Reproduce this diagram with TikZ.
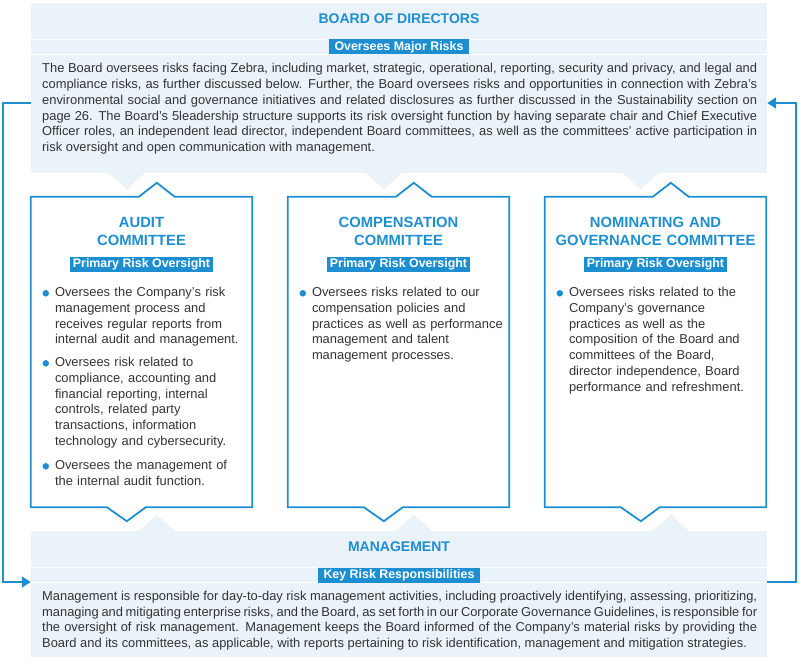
\documentclass[tikz,border=0pt]{standalone}
\usepackage{fontspec}
\setmainfont{Liberation Sans}
\usetikzlibrary{arrows.meta,positioning,calc}
\definecolor{zebra-blue}{HTML}{1D8FD1}
\definecolor{panelfill}{HTML}{EAF2FA}
\definecolor{bodygrey}{HTML}{333333}

\begin{document}
\begin{tikzpicture}[x=1pt, y=-1pt,
  panel/.style={fill=panelfill, inner sep=0pt, minimum width=736pt},
  cbox/.style={inner sep=0pt, minimum width=221pt, minimum height=310pt},
  cframe/.style={draw=zebra-blue, line width=1.8pt, line join=miter},
  heading/.style={font=\fontsize{14}{18}\selectfont\bfseries, text=zebra-blue, inner sep=0pt},
  ctitle/.style={heading, font=\fontsize{14.8}{18}\selectfont\bfseries, align=center, text width=215pt},
  tag/.style={fill=zebra-blue, text=white, font=\fontsize{12.4}{14}\selectfont\bfseries, inner xsep=6pt, inner ysep=0pt, minimum height=15pt},
  body/.style={font=\fontsize{12.9}{15.8}\selectfont, text=bodygrey, align=justify, text width=715pt, inner sep=0pt, anchor=base west},
  point/.style={font=\fontsize{12.9}{15.7}\selectfont, text=bodygrey, align=left, text width=198pt, inner sep=0pt, anchor=base west},
  dot/.style={circle, fill=zebra-blue, inner sep=0pt, minimum size=6.5pt},
  rule/.style={draw=white, line width=0.8pt},
  link/.style={-{Triangle[length=9pt, width=11pt]}, draw=zebra-blue, line width=2pt}
]
  \useasboundingbox (0,0) rectangle (800,661);

  % panels
  \node[panel, minimum height=170pt] (board) at (399,88) {};
  \node[panel, minimum height=126pt] (mgmt) at (399,594) {};

  % committee boxes
  \node[cbox] (audit) at (141.5,352) {};
  \node[cbox] (comp) at (398.5,352) {};
  \node[cbox] (nomgov) at (655.5,352) {};

  \foreach \c in {audit,comp,nomgov} {
    \fill[panelfill] ($(board.south -| \c.west)+(78,0)$) -- ++(18,16) -- ++(18,-16) -- cycle;
    \fill[panelfill] ($(mgmt.north -| \c.west)+(108,0)$) -- ++(18,-16) -- ++(18,16) -- cycle;
    \draw[cframe] (\c.north west) -- ++(108,0) -- ++(18,-14) -- ++(18,14) -- (\c.north east)
      -- (\c.south east) -- ([xshift=115pt]\c.south west) -- ++(-19,14) -- ++(-20,-14)
      -- (\c.south west) -- cycle;
  }

  % board of directors
  \node[heading, anchor=base] (bdtitle) at (399,24) {BOARD OF DIRECTORS};
  \node[tag] (bdtag) at (399,46.8) {Oversees Major Risks};
  \draw[rule] (board.west |- bdtag.north) -- (bdtag.north west);
  \draw[rule] (bdtag.north east) -- (board.east |- bdtag.north);
  \draw[rule] (board.west |- bdtag.south) -- (bdtag.south west);
  \draw[rule] (bdtag.south east) -- (board.east |- bdtag.south);
  \node[body] (bdtext) at (42,72.7) {The Board oversees risks facing Zebra, including market, strategic, operational, reporting, security and privacy, and legal and\linebreak
    compliance risks, as further discussed below. Further, the Board oversees risks and opportunities in connection with Zebra’s\linebreak
    environmental social and governance initiatives and related disclosures as further discussed in the Sustainability section on\linebreak
    page 26. The Board’s 5leadership structure supports its risk oversight function by having separate chair and Chief Executive\linebreak
    Officer roles, an independent lead director, independent Board committees, as well as the committees’ active participation in\linebreak
    risk oversight and open communication with management.};

  % audit committee
  \node[ctitle, anchor=base] (audtitle) at ([yshift=-31pt]audit.north) {AUDIT\\COMMITTEE};
  \node[tag, inner xsep=3pt] (audtag) at ([yshift=-68pt]audit.north) {Primary Risk Oversight};
  \node[point] (aud1) at ([xshift=24pt, yshift=-100pt]audit.north west) {Oversees the Company’s risk\\management process and\\receives regular reports from\\internal audit and management.};
  \node[point] (aud2) at ([xshift=24pt, yshift=-170pt]audit.north west) {Oversees risk related to\\compliance, accounting and\\financial reporting, internal\\controls, related party\\transactions, information\\technology and cybersecurity.};
  \node[point] (aud3) at ([xshift=24pt, yshift=-273pt]audit.north west) {Oversees the management of\\the internal audit function.};
  \node[dot] (aud1dot) at ([xshift=-9pt, yshift=3.5pt]aud1.base west) {};
  \node[dot] (aud2dot) at ([xshift=-9pt, yshift=3.5pt]aud2.base west) {};
  \node[dot] (aud3dot) at ([xshift=-9pt, yshift=3.5pt]aud3.base west) {};

  % compensation committee
  \node[ctitle, anchor=base] (comptitle) at ([yshift=-31pt]comp.north) {COMPENSATION\\COMMITTEE};
  \node[tag, inner xsep=3pt] (comptag) at ([yshift=-68pt]comp.north) {Primary Risk Oversight};
  \node[point] (comp1) at ([xshift=24pt, yshift=-100pt]comp.north west) {Oversees risks related to our\\compensation policies and\\practices as well as performance\\management and talent\\management processes.};
  \node[dot] (comp1dot) at ([xshift=-9pt, yshift=3.5pt]comp1.base west) {};

  % nominating and governance committee
  \node[ctitle, anchor=base] (nomtitle) at ([yshift=-31pt]nomgov.north) {NOMINATING AND\\GOVERNANCE COMMITTEE};
  \node[tag, inner xsep=3pt] (nomtag) at ([yshift=-68pt]nomgov.north) {Primary Risk Oversight};
  \node[point] (nom1) at ([xshift=24pt, yshift=-100pt]nomgov.north west) {Oversees risks related to the\\Company’s governance\\practices as well as the\\composition of the Board and\\committees of the Board,\\director independence, Board\\performance and refreshment.};
  \node[dot] (nom1dot) at ([xshift=-9pt, yshift=3.5pt]nom1.base west) {};

  % management
  \node[heading, anchor=base] (mgtitle) at (399,551.5) {MANAGEMENT};
  \node[tag] (mgtag) at (399,575) {Key Risk Responsibilities};
  \draw[rule] (mgmt.west |- mgtag.north) -- (mgtag.north west);
  \draw[rule] (mgtag.north east) -- (mgmt.east |- mgtag.north);
  \draw[rule] (mgmt.west |- mgtag.south) -- (mgtag.south west);
  \draw[rule] (mgtag.south east) -- (mgmt.east |- mgtag.south);
  \node[body] (mgtext) at (42,600.3) {Management is responsible for day-to-day risk management activities, including proactively identifying, assessing, prioritizing,\linebreak
    managing and mitigating enterprise risks, and the Board, as set forth in our Corporate Governance Guidelines, is responsible for\linebreak
    the oversight of risk management. Management keeps the Board informed of the Company’s material risks by providing the\linebreak
    Board and its committees, as applicable, with reports pertaining to risk identification, management and mitigation strategies.};

  % reporting loops
  \draw[link] ([yshift=-15pt]board.west) -- ++(-28,0) |- ([yshift=12pt]mgmt.west);
  \draw[link] ([yshift=12pt]mgmt.east) -- ++(29,0) |- ([yshift=-15pt]board.east);
\end{tikzpicture}
\end{document}
